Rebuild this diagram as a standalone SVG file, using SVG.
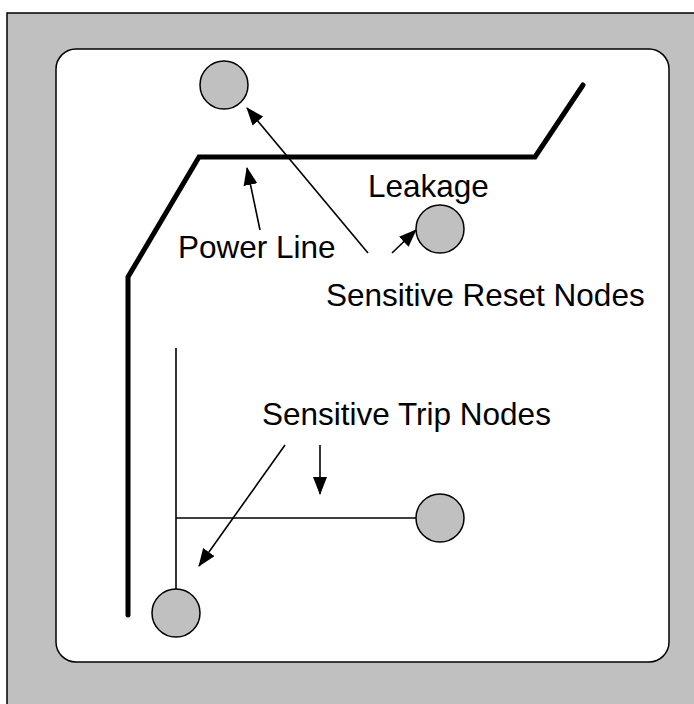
<svg xmlns="http://www.w3.org/2000/svg" width="694" height="704" viewBox="0 0 694 704">
<defs>
<style>
.node{fill:#c0c0c0;stroke:#000;stroke-width:1.5}
.thin{stroke:#000;stroke-width:1.6;fill:none}
.arrow{stroke:#000;stroke-width:1.6;fill:none;marker-end:url(#ah)}
.power{stroke:#000;stroke-width:5;fill:none;stroke-linecap:round;stroke-linejoin:miter}
.lbl{font-family:"Liberation Sans",Arial,sans-serif;font-size:31.5px;fill:#000}
</style>
<marker id="ah" markerUnits="userSpaceOnUse" markerWidth="18" markerHeight="14" viewBox="0 0 18 14" refX="17" refY="7" orient="auto">
<path d="M0,0 L18,7 L0,14 z" fill="#000"/>
</marker>
</defs>
<rect x="7" y="13" width="700" height="710" fill="#c0c0c0" stroke="#000" stroke-width="1.5"/>
<rect x="56" y="49" width="613" height="613" rx="20" ry="20" fill="#fff" stroke="#000" stroke-width="1.5"/>
<g id="connectors">
<polyline class="power" points="128,615 128,277 199,157 535,157 583,85"/>
<line class="thin" x1="176" y1="348" x2="176" y2="589"/>
<line class="thin" x1="176" y1="518" x2="416" y2="518"/>
<line class="arrow" x1="260" y1="230" x2="247" y2="168"/>
<line class="arrow" x1="368" y1="253" x2="247" y2="108"/>
<line class="arrow" x1="392" y1="253" x2="416" y2="230"/>
<line class="arrow" x1="320" y1="445" x2="320" y2="494"/>
<line class="arrow" x1="285" y1="445" x2="199" y2="566"/>
</g>
<g id="reset-node-top"><circle class="node" cx="224" cy="85" r="24"/></g>
<g id="reset-node-leakage"><circle class="node" cx="440" cy="229" r="24"/></g>
<g id="trip-node-right"><circle class="node" cx="440" cy="518" r="24"/></g>
<g id="trip-node-bottom"><circle class="node" cx="176" cy="613" r="24"/></g>
<g id="labels">
<text class="lbl" x="368" y="197">Leakage</text>
<text class="lbl" x="178" y="258">Power Line</text>
<text class="lbl" x="326" y="306">Sensitive Reset Nodes</text>
<text class="lbl" x="262" y="425">Sensitive Trip Nodes</text>
</g>
</svg>
